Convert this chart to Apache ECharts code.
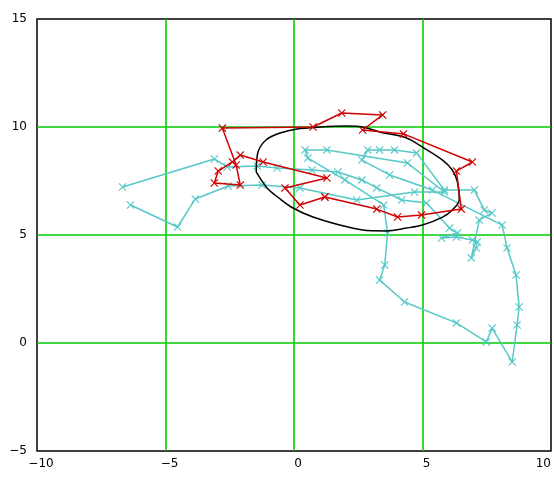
<!DOCTYPE html>
<html>
<head>
<meta charset="utf-8">
<script src="https://cdn.jsdelivr.net/npm/echarts@6/dist/echarts.min.js"></script>
<style>
  html, body { margin: 0; padding: 0; background: #fff; }
  #main { width: 554px; height: 480px; }
</style>
</head>
<body>
<div id="main"></div>
<script>
// axis range
const xRange = { min: -10, max: 10, step: 5 };
const yRange = { min: -5, max: 15, step: 5 };

// cyan track (measured points)
const cyanX = [-6.67, -3.10, -2.60, -1.43, -0.66, 0.70, 1.71, 2.64, 3.22, 4.19, 5.16, 6.05, 6.36, 5.74, 6.32,
  6.94, 7.13, 7.09, 6.90, 7.21, 7.71, 7.40, 7.02, 5.85, 4.77, 3.91, 3.33, 2.87, 2.64, 3.72,
  5.39, 8.10, 8.29, 8.64, 8.76, 8.68, 8.49, 7.71, 7.48, 6.32, 4.30, 3.33, 3.53, 3.64, 3.49,
  1.98, 0.54, 0.43, 1.28, 4.42, 5.85, 4.69, 2.44, 0.23, -1.24, -2.56, -3.84, -4.53, -6.36];
const cyanY = [7.22, 8.52, 8.15, 8.19, 8.10, 8.01, 7.92, 7.55, 7.18, 6.62, 6.48, 5.32, 5.09, 4.86, 4.91,
  4.77, 4.68, 4.40, 3.94, 5.69, 6.02, 6.16, 7.08, 7.08, 8.80, 8.94, 8.94, 8.94, 8.47, 7.78,
  7.08, 5.46, 4.40, 3.15, 1.67, 0.83, -0.88, 0.69, 0.05, 0.93, 1.90, 2.92, 3.61, 5.09, 6.39,
  7.55, 8.56, 8.94, 8.94, 8.33, 6.99, 6.99, 6.62, 7.18, 7.31, 7.27, 6.67, 5.37, 6.39];

// red track
const redX = [1.20, 0.23, -0.35, 1.28, -1.20, -2.09, -2.40, -2.95, -3.10, -2.09, -2.25, -2.79,
  0.74, 1.86, 3.45, 2.67, 4.26, 6.94, 6.32, 6.51, 4.96, 4.03, 3.22, 1.20];
const redY = [6.76, 6.39, 7.18, 7.64, 8.38, 8.70, 8.38, 7.96, 7.41, 7.31, 8.24, 9.95,
  10.0, 10.65, 10.56, 9.86, 9.68, 8.38, 7.96, 6.20, 5.93, 5.83, 6.20, 6.76];

// black outline
const ringX = [-1.47, -1.40, -1.09, -0.54, 0.12, 1.01, 1.98, 2.67, 3.33, 4.38, 5.00, 5.78, 6.16,
  6.36, 6.43, 6.16, 5.78, 5.00, 4.38, 3.60, 2.67, 1.78, 0.74, -0.04, -0.54, -1.05, -1.47];
const ringY = [7.92, 8.84, 9.40, 9.72, 9.91, 10.0, 10.05, 10.0, 9.77, 9.49, 9.07, 8.47, 8.01,
  7.45, 6.62, 6.16, 5.83, 5.46, 5.32, 5.19, 5.23, 5.46, 5.83, 6.25, 6.67, 7.18, 7.92];

const cross = "path://M0,1L1,0L5,4L9,0L10,1L6,5L10,9L9,10L5,6L1,10L0,9L4,5Z";

function pairs(xs, ys) {
  return xs.map((x, i) => [x, ys[i]]);
}

function fmt(v) {
  return String(v).replace("-", "\u2212");
}

const chart = echarts.init(document.getElementById("main"));

chart.setOption({
  animation: false,
  backgroundColor: "#fff",
  grid: {
    left: 37, right: 2, top: 19, bottom: 29,
    show: true, borderColor: "#000", borderWidth: 1.5,
  },
  xAxis: {
    type: "value",
    min: xRange.min, max: xRange.max, interval: xRange.step,
    axisLine: { show: false },
    axisTick: { show: false },
    splitLine: {
      showMinLine: false, showMaxLine: false,
      lineStyle: { color: "#00cc00", width: 1.6 },
    },
    axisLabel: {
      color: "#000", fontSize: 12, fontFamily: "DejaVu Sans", margin: 7,
      padding: [0, 0, 0, 8],
      alignMaxLabel: "right",
      formatter: fmt,
    },
  },
  yAxis: {
    type: "value",
    min: yRange.min, max: yRange.max, interval: yRange.step,
    axisLine: { show: false },
    axisTick: { show: false },
    splitLine: {
      showMinLine: false, showMaxLine: false,
      lineStyle: { color: "#00cc00", width: 1.6 },
    },
    axisLabel: {
      color: "#000", fontSize: 12, fontFamily: "DejaVu Sans", margin: 10,
      formatter: fmt,
    },
  },
  series: [
    {
      type: "line",
      data: pairs(cyanX, cyanY),
      symbol: cross, symbolSize: 8,
      itemStyle: { color: "#55c8c8" },
      lineStyle: { color: "#55c8c8", width: 1.5 },
      z: 2,
    },
    {
      type: "line",
      data: pairs(ringX, ringY),
      showSymbol: false,
      smooth: 0.3,
      lineStyle: { color: "#000", width: 1.5 },
      z: 3,
    },
    {
      type: "line",
      data: pairs(redX, redY),
      symbol: cross, symbolSize: 8,
      itemStyle: { color: "#d00000" },
      lineStyle: { color: "#d00000", width: 1.5 },
      z: 4,
    },
  ],
});
</script>
</body>
</html>
